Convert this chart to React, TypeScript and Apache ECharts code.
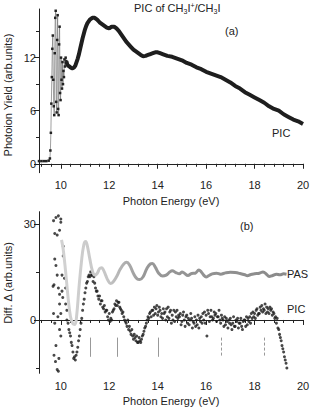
import React, { useEffect, useRef } from "react";
import * as echarts from "echarts";

// ---- Panel (a): PIC of CH3I+/CH3I ----
const picTopOnset: [number, number][] = [
  [9.1, 0.3], [9.2, 0.3], [9.3, 0.3], [9.4, 0.3], [9.5, 0.35], [9.55, 0.6], [9.57, 1.5], [9.59, 3.5],
  [9.61, 6.8], [9.63, 9.8], [9.65, 13.0], [9.67, 14.5], [9.69, 9.5], [9.71, 6.5], [9.73, 5.5],
  [9.75, 12.5], [9.77, 16.5], [9.79, 17.3], [9.81, 7.0], [9.83, 5.8], [9.85, 14.0], [9.87, 16.8],
  [9.89, 6.2], [9.91, 5.5], [9.93, 13.5], [9.95, 15.5], [9.97, 8.0], [9.99, 7.2], [10.01, 12.0],
  [10.03, 9.5], [10.05, 8.5], [10.07, 11.5], [10.09, 9.0], [10.11, 10.5], [10.13, 9.8], [10.15, 11.8],
  [10.17, 11.0], [10.2, 12.0], [10.23, 11.6],
];
const picTopMain: [number, number][] = [
  [10.23, 11.6], [10.27, 11.2], [10.3, 11.1], [10.35, 11.0], [10.4, 10.9], [10.45, 10.8], [10.5, 10.8],
  [10.55, 10.9], [10.6, 11.1], [10.65, 11.5], [10.7, 11.9], [10.75, 12.4], [10.8, 13.0], [10.85, 13.6],
  [10.9, 14.2], [10.95, 14.7], [11.0, 15.2], [11.05, 15.6], [11.1, 15.9], [11.15, 16.1], [11.2, 16.3],
  [11.3, 16.5], [11.4, 16.5], [11.5, 16.3], [11.6, 16.0], [11.7, 15.8], [11.8, 15.6], [11.9, 15.4],
  [12.0, 15.3], [12.1, 15.5], [12.2, 15.5], [12.3, 15.3], [12.4, 15.0], [12.5, 14.6], [12.6, 14.2],
  [12.7, 13.8], [12.8, 13.5], [12.9, 13.2], [13.0, 12.9], [13.1, 12.7], [13.2, 12.5], [13.3, 12.3],
  [13.4, 12.15], [13.5, 12.2], [13.6, 12.3], [13.7, 12.4], [13.8, 12.5], [13.9, 12.6], [14.0, 12.6],
  [14.1, 12.5], [14.2, 12.4], [14.4, 12.2], [14.6, 12.1], [14.8, 11.9], [15.0, 11.7], [15.2, 11.4],
  [15.4, 11.2], [15.6, 10.9], [15.8, 10.7], [16.0, 10.4], [16.2, 10.2], [16.4, 10.0], [16.6, 9.8],
  [16.8, 9.5], [17.0, 9.2], [17.2, 8.8], [17.4, 8.5], [17.6, 8.1], [17.8, 7.8], [18.0, 7.5],
  [18.2, 7.2], [18.4, 6.9], [18.6, 6.5], [18.8, 6.2], [19.0, 6.0], [19.2, 5.6], [19.4, 5.3],
  [19.6, 5.0], [19.8, 4.8], [20.0, 4.5],
];

// ---- Panel (b): Diff. Δ ----
const pasCurve: [number, number][] = [
  [10.03, 25], [10.1, 22], [10.2, 15], [10.3, 7], [10.4, 1], [10.5, -1.2], [10.58, -1.4], [10.65, 1],
  [10.75, 10], [10.85, 18], [10.95, 23.5], [11.03, 24.5], [11.1, 23], [11.2, 19], [11.3, 15.5],
  [11.4, 14], [11.5, 14.5], [11.6, 16], [11.68, 16.3], [11.75, 15.8], [11.85, 14], [11.95, 12.3],
  [12.05, 11.4], [12.15, 11.8], [12.3, 13.5], [12.45, 15.8], [12.6, 17.5], [12.72, 18], [12.85, 17],
  [13.0, 14.5], [13.15, 12.8], [13.26, 12.6], [13.4, 13.5], [13.55, 16], [13.7, 17.5], [13.78, 17.6],
  [13.9, 16.5], [14.05, 14.5], [14.2, 13.7], [14.35, 14], [14.5, 15], [14.6, 15.4], [14.75, 14.8],
  [14.9, 14.4], [15.0, 15], [15.1, 14.6], [15.25, 13.9], [15.4, 14.5], [15.55, 14.6], [15.7, 15.6],
  [15.8, 15.0], [15.9, 14], [16.0, 13.4], [16.1, 13.8], [16.25, 14.4], [16.43, 14.6], [16.6, 14.3],
  [16.8, 14.7], [17.0, 14.9], [17.2, 14.8], [17.4, 14.5], [17.6, 14.1], [17.7, 13.8], [17.85, 14.2],
  [18.0, 14.4], [18.2, 14.6], [18.35, 15.0], [18.5, 14.2], [18.6, 13.6], [18.75, 13.9], [18.9, 14.3],
  [19.05, 14.1], [19.2, 14.4], [19.32, 14.3],
];
const picDiffOnset: [number, number][] = [
  [9.68, 10.5], [9.7, 31], [9.72, 11], [9.7, 2], [9.72, -11], [9.75, 27], [9.75, 19], [9.75, -1],
  [9.78, -13], [9.8, 32], [9.8, 17], [9.8, -8], [9.85, 26.5], [9.85, 14], [9.85, -15.5], [9.9, 32.5],
  [9.9, 10], [9.9, -16], [9.95, 28], [9.95, 8], [9.95, 5], [9.95, -3], [10.0, 31.5], [10.0, 30.5],
  [10.0, 2], [10.0, -5], [10.05, 9], [10.05, 14], [10.1, 23], [10.1, 20], [10.15, 13], [10.2, 10],
  [10.2, 5], [10.25, 3], [10.25, 0], [9.92, -12], [9.88, 1], [10.08, 7],
];
// rows: start energy, then three samples spaced along the row
const picDiffRows: number[][] = [
  [10.3, -1, -3, -4], [10.4, -5, -7, -8], [10.5, -10, -12, -11.5], [10.6, -12.5, -11, -10],
  [10.7, -8.5, -6.5, -5], [10.8, -3, -1, 0.5], [10.9, 3, 5, 6.5], [11.0, 8.5, 10, 11.5],
  [11.1, 12, 13.5, 14], [11.2, 13.5, 15, 14], [11.3, 14, 12, 13.5], [11.4, 11.5, 10, 9],
  [11.5, 9, 7.5, 6.5], [11.6, 7.5, 5, 6], [11.7, 6, 4, 3.5], [11.8, 4.5, 2.5, 3],
  [11.9, 3, 1, 0], [12.0, 2, -0.5, 0.5], [12.1, 0, 2.5, 3], [12.2, 3.5, 5, 4.5],
  [12.3, 6, 4.5, 5.5], [12.4, 5.5, 4, 3.5], [12.5, 3, 2, 2.5], [12.6, 1, 0, -0.5],
  [12.7, -1, -2, 0], [12.8, -3, -2, -3.5], [12.9, -4.5, -3, -5], [13.0, -6, -4.5, -5.5],
  [13.1, -6.5, -5, -7], [13.2, -7, -5.5, -6.5], [13.3, -7, -6, -5], [13.4, -4.5, -3.5, -2.5],
  [13.5, -2, -1, 0], [13.6, 1, 0.5, 2], [13.7, 2.5, 1, 3], [13.8, 3, 1.5, 4],
  [13.9, 2, 3.5, 4.5], [14.0, 1.5, 2.5, 4], [14.1, 3, 1, 2], [14.2, 0.5, 3.5, 2],
  [14.3, 2.5, 0, 3.5], [14.4, 1, 4, 0.5], [14.5, 2.5, 3, -1], [14.6, 1.5, 0, 3],
  [14.7, -0.5, 2.5, 1], [14.8, 3, 0.5, 1.5], [14.9, 1, 2, -1.5], [15.0, -0.5, 1.5, 2.5],
  [15.1, 0, -2, 1], [15.2, 1.5, -1, 0.5], [15.3, -1.5, 0, 2], [15.4, 0.5, -2.5, -0.5],
  [15.5, -1, 1, -2], [15.6, 0, -1.5, 1.5], [15.7, -2.5, 0.5, -0.5], [15.8, 1, -1, 2],
  [15.9, 0, 2.5, -1], [16.0, 1.5, -5, 3], [16.1, 2, -0.5, 1], [16.2, 3, 1, 0],
  [16.3, 0.5, 2.5, 1.5], [16.4, 2, -0.5, 1], [16.5, 1, 3, 0], [16.6, -1, 1.5, 0.5],
  [16.7, 0, -2, 1], [16.8, -1.5, 0.5, -0.5], [16.9, -2.5, 0, -1], [17.0, 0.5, -1.5, -3],
  [17.1, -1, 1, -2], [17.2, -2, 0, -0.5], [17.3, 0.5, -2.5, -1], [17.4, -1, 0.5, -2],
  [17.5, -3, -0.5, 0], [17.6, 0, -2, 1], [17.7, -1.5, 0.5, -0.5], [17.8, 1, -1, 2],
  [17.9, 0.5, 2.5, 1], [18.0, 2, 0.5, 3], [18.1, 3.5, 1.5, 2], [18.2, 2, 4, 3],
  [18.3, 4.5, 2.5, 3.5], [18.4, 3, 5, 2], [18.5, 4, 2.5, 3.5], [18.6, 2, 4, 3],
  [18.7, 3.5, 1.5, 2.5], [18.8, 2, 0.5, 1], [18.9, -1, 0.5, -2.5], [19.0, -3, -4.5, -5.5],
  [19.1, -6.5, -8, -9], [19.2, -10, -11.5, -12.5], [19.3, -13.5, -15],
];
const bandMarkers: { x: number; dashed: boolean }[] = [
  { x: 11.22, dashed: false }, { x: 12.33, dashed: false }, { x: 14.02, dashed: false },
  { x: 16.63, dashed: true }, { x: 18.42, dashed: true },
];
const markerSpan: [number, number] = [-5.5, -11.5];

// ---- Ticks ----
const xMajor = [10, 12, 14, 16, 18, 20];
const xMinor = [9.2, 9.6, 10.4, 10.8, 11.2, 11.6, 12.4, 12.8, 13.2, 13.6, 14.4, 14.8, 15.2, 15.6,
  16.4, 16.8, 17.2, 17.6, 18.4, 18.8, 19.2, 19.6];
const yTopMajor = [0, 6, 12];
const yTopMinor = [3, 9, 15];
const yBotMajor = [0, 30];
const yBotMinor = [-15, 15];

const FONT = "'Liberation Sans', Arial, Helvetica, sans-serif";
const INK = "#222";

export default function App() {
  const ref = useRef<HTMLDivElement>(null);
  useEffect(() => {
    if (!ref.current) return;
    const chart = echarts.init(ref.current, null, { renderer: "svg" });

    const picDiffPts: [number, number][] = [...picDiffOnset];
    picDiffRows.forEach((r) => {
      for (let i = 1; i < r.length; i++) picDiffPts.push([r[0] + (i - 1) * 0.033, r[i]]);
    });

    const xMajorAxis = (grid: number) => ({
      type: "value", gridIndex: grid, min: 9.1, max: 20, position: "bottom",
      axisLine: { show: true, lineStyle: { color: INK, width: 1 } },
      axisTick: { show: true, customValues: xMajor, length: 5, inside: false, lineStyle: { color: INK } },
      axisLabel: { customValues: xMajor, margin: 7, fontSize: 11, color: INK, fontFamily: FONT },
      splitLine: { show: false },
    });
    const xMinorAxis = (grid: number) => ({
      type: "value", gridIndex: grid, min: 9.1, max: 20, position: "bottom",
      axisLine: { show: false },
      axisTick: { show: true, customValues: xMinor, length: 3, lineStyle: { color: INK } },
      axisLabel: { show: false },
      splitLine: { show: false },
    });
    const yAxisPair = (grid: number, min: number, max: number, major: number[], minor: number[]) => [
      {
        type: "value", gridIndex: grid, min, max, position: "left",
        axisLine: { show: true, lineStyle: { color: INK, width: 1 } },
        axisTick: { show: true, customValues: major, length: 5, lineStyle: { color: INK } },
        axisLabel: { customValues: major, margin: 3, fontSize: 11, color: INK, fontFamily: FONT },
        splitLine: { show: false },
      },
      {
        type: "value", gridIndex: grid, min, max, position: "left",
        axisLine: { show: false },
        axisTick: { show: true, customValues: minor, length: 3, lineStyle: { color: INK } },
        axisLabel: { show: false },
        splitLine: { show: false },
      },
    ];

    const txt = (x: number, y: number, text: string, opts: any = {}) => ({
      type: "text", x, y, rotation: opts.rotation || 0,
      style: {
        text, fontSize: opts.fontSize || 11, fontFamily: FONT, fill: INK,
        align: opts.align || "left", verticalAlign: "middle",
      },
    });

    chart.setOption({
      animation: false,
      grid: [
        { left: 39, right: 10, top: 9, bottom: 237.3 },
        { left: 39, right: 10, top: 211.7, bottom: 36.7 },
      ],
      xAxis: [xMajorAxis(0), xMinorAxis(0), xMajorAxis(1), xMinorAxis(1)],
      yAxis: [
        ...yAxisPair(0, -1.01, 17.5, yTopMajor, yTopMinor),
        ...yAxisPair(1, -16.65, 33.8, yBotMajor, yBotMinor),
      ],
      series: [
        {
          type: "line", xAxisIndex: 0, yAxisIndex: 0, data: picTopOnset,
          symbol: "rect", symbolSize: 2.5, showSymbol: true,
          itemStyle: { color: INK },
          lineStyle: { color: "#777", width: 0.7 },
        },
        {
          type: "line", xAxisIndex: 0, yAxisIndex: 0, data: picTopMain,
          symbol: "none", lineStyle: { color: "#1e1e1e", width: 4 },
        },
        {
          type: "line", xAxisIndex: 2, yAxisIndex: 2, data: pasCurve, smooth: 0.4,
          symbol: "none",
          lineStyle: {
            width: 3,
            color: new echarts.graphic.LinearGradient(0, 0, 1, 0, [
              { offset: 0, color: "#d2d2d2" },
              { offset: 0.2, color: "#c6c6c6" },
              { offset: 0.36, color: "#989898" },
              { offset: 1, color: "#8a8a8a" },
            ]),
          },
        },
        {
          type: "scatter", xAxisIndex: 2, yAxisIndex: 2, data: picDiffPts,
          symbol: "circle", symbolSize: 3, itemStyle: { color: "#1a1a1a" },
        },
        {
          type: "line", xAxisIndex: 2, yAxisIndex: 2, data: [], symbol: "none",
          markLine: {
            silent: true, symbol: "none", label: { show: false },
            data: bandMarkers.map((m) => [
              { coord: [m.x, markerSpan[0]], lineStyle: { color: "#999", width: 1, type: m.dashed ? [3, 2] : "solid" } },
              { coord: [m.x, markerSpan[1]] },
            ]),
          },
        },
      ],
      graphic: [
        {
          type: "text", x: 134, y: 8,
          style: {
            text: "PIC of CH{s|3}I{p|+}/CH{s|3}I",
            fontSize: 11, fontFamily: FONT, fill: INK, verticalAlign: "middle",
            rich: {
              s: { fontSize: 7, fontFamily: FONT, fill: INK, padding: [6, 0, 0, 0] },
              p: { fontSize: 7, fontFamily: FONT, fill: INK, padding: [0, 0, 6, 0] },
            },
          },
        },
        txt(225, 31, "(a)"),
        txt(272, 133, "PIC"),
        txt(240, 226, "(b)"),
        txt(287, 274, "PAS"),
        txt(287, 309, "PIC"),
        txt(171, 201, "Photon Energy (eV)", { align: "center" }),
        txt(171, 401, "Photon Energy (eV)", { align: "center" }),
        txt(8, 95, "Photoion Yield (arb.units)", { align: "center", rotation: Math.PI / 2 }),
        txt(8, 283, "Diff. Δ (arb.units)", { align: "center", rotation: Math.PI / 2 }),
      ],
    });
    return () => chart.dispose();
  }, []);
  return (
    <div
      ref={ref}
      style={{ position: "fixed", left: 0, top: 0, width: 313, height: 410, background: "#fff" }}
    />
  );
}
